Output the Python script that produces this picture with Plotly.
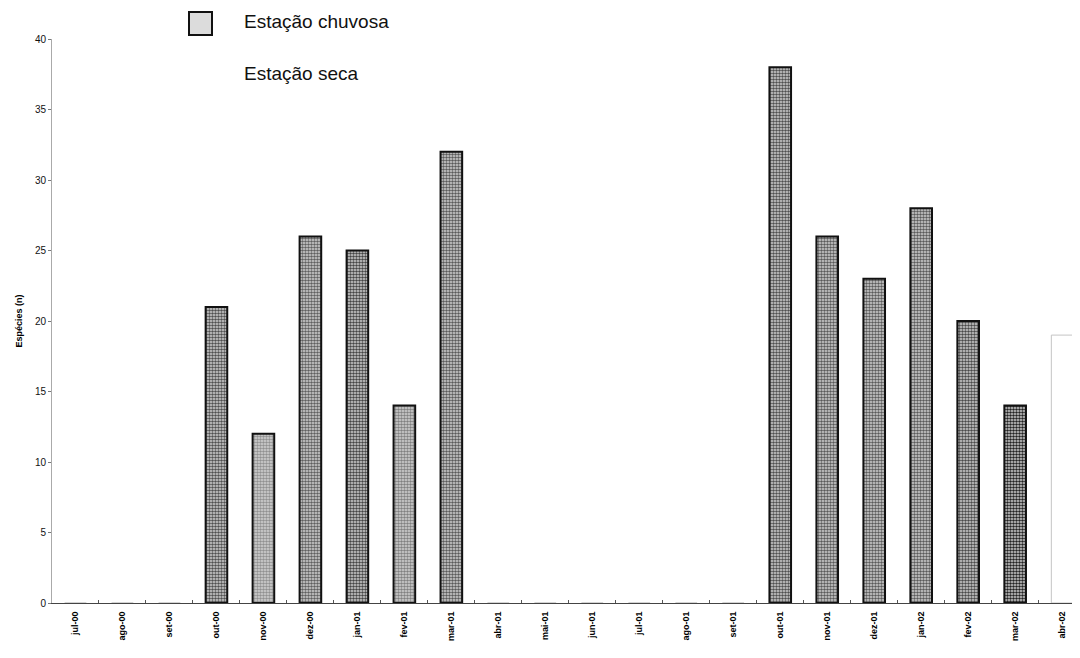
import plotly.graph_objects as go

months = ["jul-00", "ago-00", "set-00", "out-00", "nov-00", "dez-00", "jan-01", "fev-01",
          "mar-01", "abr-01", "mai-01", "jun-01", "jul-01", "ago-01", "set-01", "out-01",
          "nov-01", "dez-01", "jan-02", "fev-02", "mar-02", "abr-02"]
especies = [0, 0, 0, 21, 12, 26, 25, 14, 32, 0, 0, 0, 0, 0, 0, 38, 26, 23, 28, 20, 14, 19]
estacao = ["seca", "seca", "seca", "chuvosa", "chuvosa", "chuvosa", "chuvosa", "chuvosa",
           "chuvosa", "seca", "seca", "seca", "seca", "seca", "seca", "chuvosa",
           "chuvosa", "chuvosa", "chuvosa", "chuvosa", "chuvosa", "seca"]
y_ticks = [0, 5, 10, 15, 20, 25, 30, 35, 40]

# stipple tone per rainy bar (visual density in scan)
tone = {"out-00": "#505050", "nov-00": "#909090", "dez-00": "#606060", "jan-01": "#454545",
        "fev-01": "#808080", "mar-01": "#5a5a5a", "out-01": "#505050", "nov-01": "#5a5a5a",
        "dez-01": "#5a5a5a", "jan-02": "#5a5a5a", "fev-02": "#4a4a4a", "mar-02": "#222222"}

x_idx = list(range(len(months)))
rain_y = [v if s == "chuvosa" else None for v, s in zip(especies, estacao)]
dry_y = [v if s == "seca" else None for v, s in zip(especies, estacao)]
rain_fg = [tone.get(m, "#5a5a5a") for m in months]

# page body has an 8px margin; offset so the plot area lands at x 52..1080, y 39..603
OFF = 8
L, T = 52 - OFF, 39 - OFF
R = OFF
B = 658 - (603 - OFF)
PW, PH = 1080 - L - R, 658 - T - B
X0, Y0 = 52, 603  # plot-area origin in screen px


def px_x(x):
    return (x - X0) / PW


def px_y(y):
    return (Y0 - y) / PH


fig = go.Figure()
fig.add_trace(go.Bar(
    x=x_idx, y=rain_y, name="Estação chuvosa", width=0.46,
    marker=dict(color="#cfcfcf", line=dict(color="#111111", width=2),
                pattern=dict(shape=".", fgcolor=rain_fg, bgcolor="#d6d6d6",
                             size=3, solidity=0.55, fillmode="replace")),
    showlegend=False,
))
fig.add_trace(go.Bar(
    x=x_idx, y=dry_y, name="Estação seca", width=0.46,
    marker=dict(color="white", line=dict(color="#c4c4c4", width=1)),
    showlegend=False,
))

fig.update_layout(
    width=1080, height=658,
    margin=dict(l=L, r=R, t=T, b=B, autoexpand=False),
    paper_bgcolor="white", plot_bgcolor="white",
    barmode="overlay",
    font=dict(family="Liberation Sans, Arial, sans-serif", color="#111111"),
    xaxis=dict(
        range=[-0.5, 21.38], tickmode="array", tickvals=x_idx,
        ticktext=["<b>%s</b>" % m for m in months], automargin=False,
        tickangle=-90, tickfont=dict(size=9, family="Liberation Sans, Arial", color="#000000"),
        ticklabelstandoff=4,
        showline=True, linecolor="#444444", linewidth=1,
        ticks="", showgrid=False, zeroline=False,
    ),
    yaxis=dict(
        range=[0, 40], tickmode="array", tickvals=y_ticks, automargin=False,
        tickfont=dict(size=10, color="#111111"),
        showline=True, linecolor="#aaaaaa", linewidth=1,
        ticks="outside", ticklen=3, tickcolor="#777777",
        showgrid=False, zeroline=False,
        title=dict(text="<b>Espécies (n)</b>", font=dict(size=9, color="#000000"), standoff=10),
    ),
)

fig.update_xaxes(minor=dict(tickvals=[i + 0.5 for i in range(len(months) - 1)],
                            ticks="inside", ticklen=3, tickcolor="#555555"))

# legend drawn as box + labels
fig.add_shape(type="rect", xref="paper", yref="paper",
              x0=px_x(189), x1=px_x(212), y0=px_y(35), y1=px_y(12),
              line=dict(color="#111111", width=2), fillcolor="#dcdcdc")
fig.add_annotation(text="Estação chuvosa", xref="paper", yref="paper",
                   x=px_x(242), y=px_y(22), xanchor="left", yanchor="middle",
                   showarrow=False, font=dict(size=19, color="#111111"))
fig.add_annotation(text="Estação seca", xref="paper", yref="paper",
                   x=px_x(242), y=px_y(73), xanchor="left", yanchor="middle",
                   showarrow=False, font=dict(size=19, color="#111111"))

fig.write_html("out.html")
